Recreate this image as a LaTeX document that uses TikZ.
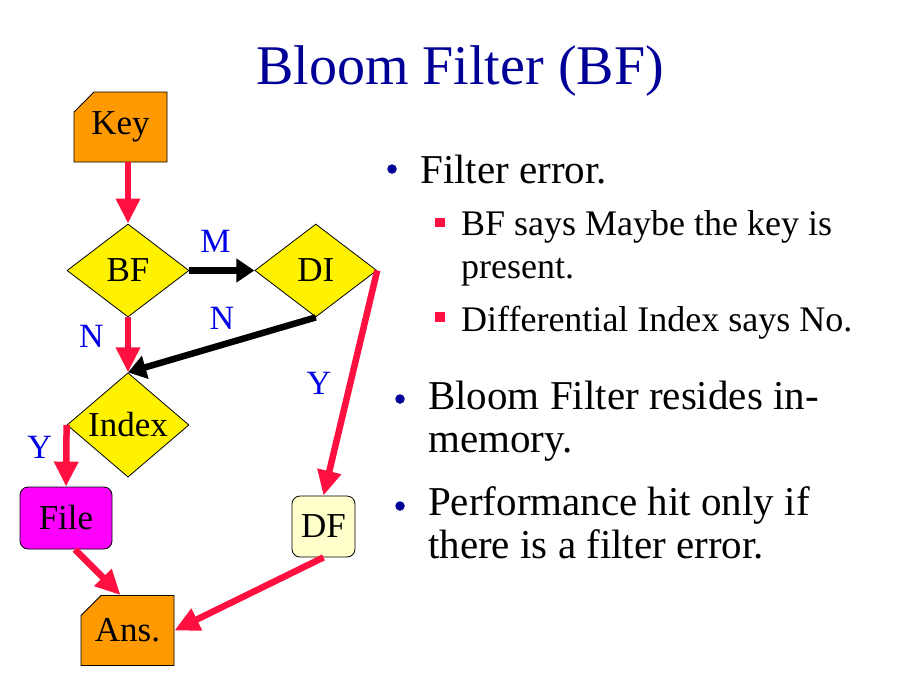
\documentclass[tikz,border=0pt]{standalone}
\usepackage{fontspec}
\setmainfont{Liberation Serif}
\usepackage{tikz}
\usetikzlibrary{positioning}
\usetikzlibrary{shapes.geometric,shapes.misc}
\usetikzlibrary{arrows.meta}
\definecolor{slideblue}{RGB}{0,0,153}
\definecolor{labelblue}{RGB}{0,0,230}
\definecolor{arrowred}{RGB}{255,16,64}
\definecolor{keyorange}{RGB}{255,153,0}
\definecolor{filepink}{RGB}{255,0,255}
\definecolor{dfcream}{RGB}{255,255,204}
\begin{document}
\begin{tikzpicture}
        [x=1pt,y=-1pt,
         every node/.style={font=\fontsize{35}{42}\selectfont},
         test/.style={diamond,draw,line width=0.8pt,fill=yellow,minimum width=122pt,minimum height=93pt,inner sep=0pt},
         card/.style={chamfered rectangle,chamfered rectangle corners=north west,chamfered rectangle sep=10pt,draw,line width=0.8pt,fill=keyorange,minimum width=93pt,minimum height=70pt,inner sep=0pt},
         store/.style={rectangle,rounded corners=8pt,draw,line width=0.8pt,minimum height=62pt},
         redarrow/.style={draw=arrowred,line width=6.5pt,-{Triangle[length=25pt,width=23pt]}},
         blackarrow/.style={draw=black,line width=6.5pt,-{Triangle[length=18pt,width=23pt]}},
         answer/.style={text=labelblue,inner sep=0pt,font=\fontsize{34}{40}\selectfont},
         point/.style={anchor=base west,inner sep=0pt,font=\fontsize{41}{48}\selectfont},
         sub/.style={anchor=base west,inner sep=0pt,font=\fontsize{36}{42}\selectfont},
         dot/.style={circle,fill=slideblue,inner sep=0pt,minimum size=9.5pt},
         square/.style={rectangle,fill=arrowred,inner sep=0pt,minimum width=10pt,minimum height=9.5pt}]
      \useasboundingbox (0,0) rectangle (903,683);
      \node[anchor=base,text=slideblue,font=\fontsize{56}{64}\selectfont] (title) at (460,84) {Bloom Filter (BF)};
      % flow chart
      \node[card]  (key)  at (120.5,127) {Key};
      \node[test]  (bf)   at (128,270.5) {BF};
      \node[test]  (di)   [right=65pt of bf] {DI};
      \node[test]  (index) [below=55pt of bf] {Index};
      \node[store,fill=filepink,minimum width=92pt] (file) at (66,518) {File};
      \node[store,fill=dfcream,minimum width=63pt,minimum height=61pt] (df) at (323.5,526.5) {DF};
      \node[card]  (ans)  at (127.5,630.5) {Ans.};
      \draw[redarrow] (key.south -| bf.north) -- (bf.north);
      \draw[blackarrow] (bf.east) -- node[answer,above=15pt,xshift=-6.5pt] {M} (di.west);
      \draw[redarrow] (bf.south) -- node[answer,left=21pt,yshift=8.5pt] {N} (index.north);
      \draw[blackarrow] (di.south) -- node[answer,above=12pt] {N} (index.north);
      \draw[redarrow] (di.east) -- node[answer,left=16pt] {Y} (df.north);
      \draw[redarrow] (index.west) -- node[answer,left=11pt,yshift=8pt] {Y} (file.north);
      \draw[redarrow] ([xshift=9pt]file.south) -- ([xshift=-7pt]ans.north);
      \draw[redarrow] (df.south) -- (ans.east);
      % bullets
      \node[dot] (d1) at (392,169) {};
      \node[point] (err) at (420,183) {Filter error.};
      \node[square] (s1) at (440,222.5) {};
      \node[sub] (maybe) at (461,235) {BF says Maybe the key is};
      \node[sub] (maybe2) at (461,278) {present.};
      \node[square] (s2) at (440,317) {};
      \node[sub] (noidx) at (461,331) {Differential Index says No.};
      \node[dot] (d2) at (400,399) {};
      \node[point] (mem) at (428,409) {Bloom Filter resides in-};
      \node[point] (mem2) at (428,452) {memory.};
      \node[dot] (d3) at (400,506) {};
      \node[point] (hit) at (428,515) {Performance hit only if};
      \node[point] (hit2) at (428,558) {there is a filter error.};
\end{tikzpicture}
\end{document}
